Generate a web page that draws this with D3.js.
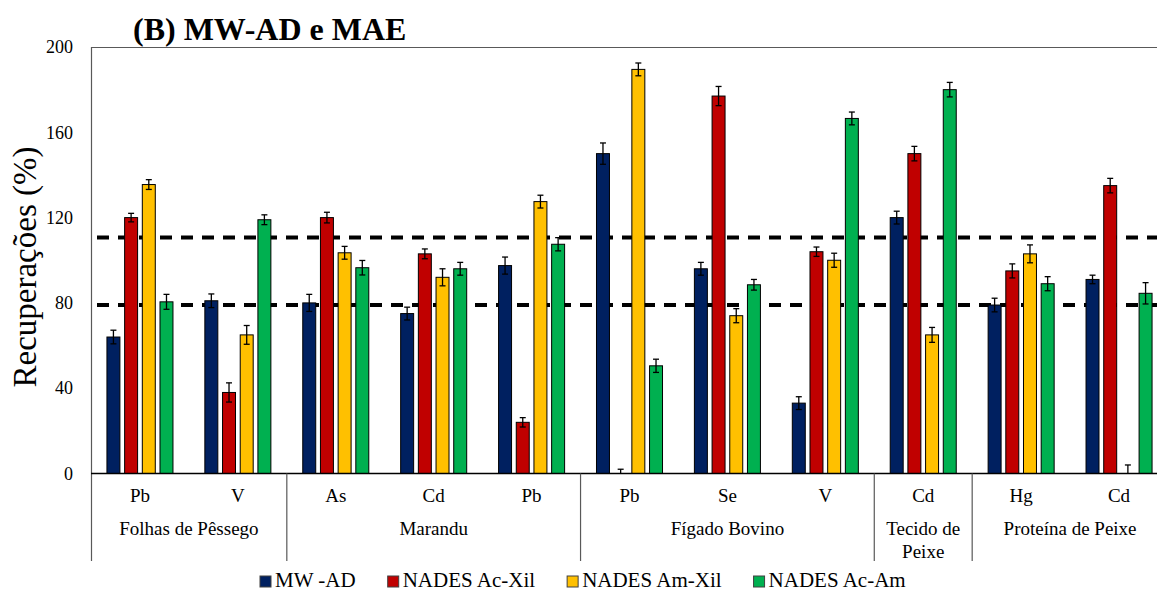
<!DOCTYPE html>
<html>
<head>
<meta charset="utf-8">
<script src="https://cdn.jsdelivr.net/npm/d3@7"></script>
<style>
  html, body { margin: 0; padding: 0; background: #fff; }
  svg { display: block; }
  svg text { font-family: "Liberation Serif", "Times New Roman", Times, "DejaVu Serif", serif; }
</style>
</head>
<body>
<svg id="chart" width="1157" height="592"></svg>
<script>
// Sample elements (one bar group each) and their matrices
const elements = ["Pb", "V", "As", "Cd", "Pb", "Pb", "Se", "V", "Cd", "Hg", "Cd"];
const matrices = ["Folhas de Pêssego", "Marandu", "Fígado Bovino", "Tecido de Peixe", "Proteína de Peixe"];
const matrixSizes = [2, 3, 3, 1, 2];

const seriesNames = ["MW -AD", "NADES Ac-Xil", "NADES Am-Xil", "NADES Ac-Am"];
const seriesColors = ["#002060", "#C00000", "#FFC000", "#00B050"];

// Recoveries (%) and standard deviations per extraction method
const mwAd      = [64, 81, 80, 75, 97.5, 150, 96, 33, 120, 79, 91];
const mwAdSd    = [3.2, 3.2, 4, 3, 4, 5, 3, 3, 3, 3.2, 2];
const acXil     = [120, 38, 120, 103, 24, 0, 177, 104, 150, 95, 135];
const acXilSd   = [2, 4.5, 2.5, 2.3, 2.2, 2, 4.5, 2.2, 3.4, 3.3, 3.4];
const amXil     = [135.5, 65, 103.5, 92, 127.5, 189.5, 74, 100, 65, 103, 0];
const amXilSd   = [2.3, 4.4, 3, 4, 3, 3, 3.3, 3.3, 3.5, 4.2, 4];
const acAm      = [80.5, 119, 96.5, 96, 107.5, 50.5, 88.5, 166.5, 180, 89, 84.5];
const acAmSd    = [3.5, 2.3, 3.4, 3, 3.1, 3.1, 2.5, 3, 3.4, 3.3, 5];

// Acceptable recovery limits (dashed reference lines)
const limits = [79, 110.7];
const yTicks = [0, 40, 80, 120, 160, 200];

const seriesValues = [mwAd, acXil, amXil, acAm];
const seriesSd = [mwAdSd, acXilSd, amXilSd, acAmSd];

const FONT = "'Liberation Serif', 'Times New Roman', Times, 'DejaVu Serif', serif";

const svg = d3.select("#chart").attr("font-family", FONT);
const plot = { left: 91, right: 1168, top: 47, bottom: 473.5 };

const x0 = d3.scaleBand().domain(d3.range(elements.length)).range([plot.left, plot.right]);
const x1 = d3.scaleBand().domain(d3.range(seriesNames.length))
  .range([0, x0.bandwidth()]).paddingInner(0.21).paddingOuter(0.873);
const y = d3.scaleLinear().domain([0, 200]).range([plot.bottom, plot.top]);

// Title
svg.append("text")
  .attr("x", 133).attr("y", 40)
  .attr("font-family", FONT)
  .attr("font-size", 32).attr("font-weight", "bold")
  .text("(B) MW-AD e MAE");

// Plot-area top border
svg.append("line")
  .attr("x1", plot.left).attr("x2", plot.right)
  .attr("y1", plot.top + 0.5).attr("y2", plot.top + 0.5)
  .attr("stroke", "#595959").attr("stroke-width", 1);

// Dashed limit lines (behind the bars)
svg.append("g").selectAll("line").data(limits).join("line")
  .attr("x1", plot.left + 6).attr("x2", plot.right)
  .attr("y1", d => y(d)).attr("y2", d => y(d))
  .attr("stroke", "#000").attr("stroke-width", 4)
  .attr("stroke-dasharray", "12,9");

// Bars
const groups = svg.append("g").selectAll("g").data(elements).join("g")
  .attr("transform", (d, i) => `translate(${x0(i)},0)`);

seriesNames.forEach((name, s) => {
  groups.append("rect")
    .attr("x", x1(s) + 0.5)
    .attr("width", x1.bandwidth() - 1)
    .attr("y", (d, i) => y(seriesValues[s][i]))
    .attr("height", (d, i) => y(0) - y(seriesValues[s][i]))
    .attr("fill", seriesColors[s])
    .attr("stroke", "#000").attr("stroke-width", 1)
    .attr("display", (d, i) => seriesValues[s][i] > 0 ? null : "none");
});

// Error bars (clipped at the category axis)
seriesNames.forEach((name, s) => {
  const eb = groups.append("g").attr("stroke", "#000").attr("stroke-width", 1.3);
  const cx = x1(s) + x1.bandwidth() / 2;
  eb.append("line")
    .attr("x1", cx).attr("x2", cx)
    .attr("y1", (d, i) => y(seriesValues[s][i] + seriesSd[s][i]))
    .attr("y2", (d, i) => Math.min(y(seriesValues[s][i] - seriesSd[s][i]), plot.bottom));
  eb.append("line")
    .attr("x1", cx - 3).attr("x2", cx + 3)
    .attr("y1", (d, i) => y(seriesValues[s][i] + seriesSd[s][i]))
    .attr("y2", (d, i) => y(seriesValues[s][i] + seriesSd[s][i]));
  eb.append("line")
    .attr("x1", cx - 3).attr("x2", cx + 3)
    .attr("y1", (d, i) => y(seriesValues[s][i] - seriesSd[s][i]))
    .attr("y2", (d, i) => y(seriesValues[s][i] - seriesSd[s][i]))
    .attr("display", (d, i) => y(seriesValues[s][i] - seriesSd[s][i]) <= plot.bottom ? null : "none");
});

// Y axis
const yAxis = svg.append("g")
  .attr("transform", `translate(${plot.left},0)`)
  .call(d3.axisLeft(y).tickValues(yTicks).tickSize(0).tickPadding(18))
  .attr("font-family", FONT);
yAxis.select(".domain").remove();
yAxis.selectAll("text")
  .attr("font-family", FONT)
  .attr("font-size", 18).attr("fill", "#000");

svg.append("line")
  .attr("x1", plot.left + 0.5).attr("x2", plot.left + 0.5)
  .attr("y1", plot.top).attr("y2", 561)
  .attr("stroke", "#595959").attr("stroke-width", 1.2);

// Y axis title
svg.append("text")
  .attr("transform", "translate(36,267) rotate(-90)")
  .attr("text-anchor", "middle")
  .attr("font-family", FONT)
  .attr("font-size", 33)
  .text("Recuperações (%)");

// X axis line
svg.append("line")
  .attr("x1", plot.left).attr("x2", plot.right)
  .attr("y1", plot.bottom).attr("y2", plot.bottom)
  .attr("stroke", "#000").attr("stroke-width", 1.5);

// Element labels
svg.append("g").selectAll("text").data(elements).join("text")
  .attr("x", (d, i) => x0(i) + x0.bandwidth() / 2)
  .attr("y", 502)
  .attr("text-anchor", "middle")
  .attr("font-family", FONT)
  .attr("font-size", 19)
  .text(d => d);

// Matrix labels and dividers
let start = 0;
const bounds = [];
matrices.forEach((m, k) => {
  const a = x0(start), b = x0(start + matrixSizes[k] - 1) + x0.bandwidth();
  bounds.push(b);
  const cx = (a + b) / 2;
  const lines = m === "Tecido de Peixe" ? ["Tecido de", "Peixe"] : [m];
  lines.forEach((t, j) => {
    svg.append("text")
      .attr("x", cx).attr("y", 535 + j * 23)
      .attr("text-anchor", "middle")
      .attr("font-family", FONT)
      .attr("font-size", 19)
      .text(t);
  });
  start += matrixSizes[k];
});
svg.append("g").selectAll("line").data(bounds.slice(0, -1)).join("line")
  .attr("x1", d => d).attr("x2", d => d)
  .attr("y1", plot.bottom).attr("y2", 561)
  .attr("stroke", "#595959").attr("stroke-width", 1.2);

// Legend
const legend = svg.append("g");
let lx = 260;
seriesNames.forEach((name, s) => {
  legend.append("rect")
    .attr("x", lx).attr("y", 576).attr("width", 11).attr("height", 11)
    .attr("fill", seriesColors[s]).attr("stroke", "#404040").attr("stroke-width", 1);
  const t = legend.append("text")
    .attr("x", lx + 15).attr("y", 587)
    .attr("font-family", FONT)
    .attr("font-size", 21)
    .text(name);
  lx += 15 + t.node().getComputedTextLength() + 32;
});
</script>
</body>
</html>
